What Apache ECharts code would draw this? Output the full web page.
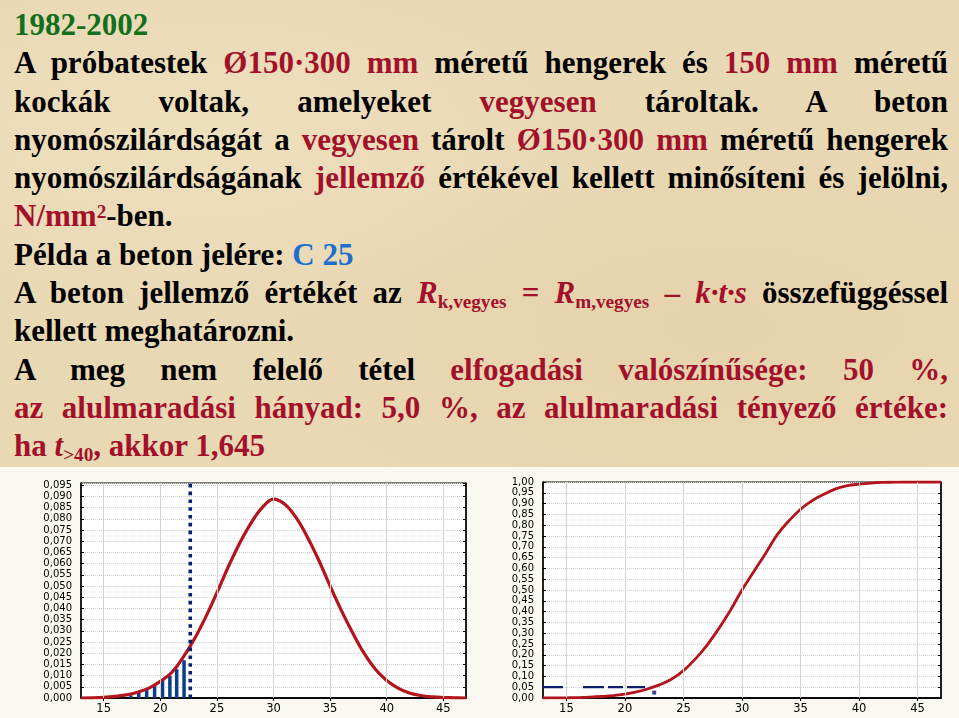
<!DOCTYPE html>
<html><head><meta charset="utf-8">
<script src="https://cdn.jsdelivr.net/npm/echarts@6/dist/echarts.min.js"></script>
<style>
html,body{margin:0;padding:0;width:959px;height:718px;overflow:hidden;background:#fbf8f1;}
#bg{position:absolute;left:0;top:0;width:959px;height:467px;
 background:radial-gradient(ellipse at 20% 30%,#eedfbd 0%,rgba(238,223,189,0) 40%),radial-gradient(ellipse at 75% 70%,#e6d3ad 0%,rgba(230,211,173,0) 45%),#e9d8b4;}
#txt{position:absolute;left:14px;top:6px;width:934px;font-family:"Liberation Serif","Times New Roman",serif;font-weight:bold;font-size:31px;line-height:38.3px;color:#000;}
.j{text-align:justify;text-align-last:justify;}
.l{text-align:left;}
.r{color:#a3102a;}
.g{color:#12701d;}
.b{color:#1e6fcc;}
sub{font-size:0.62em;vertical-align:-0.28em;line-height:0;}
sup{font-size:0.62em;vertical-align:0.42em;line-height:0;}
#chart{position:absolute;left:0;top:0;width:959px;height:718px;}
</style></head>
<body>
<div id="bg"></div>
<div id="txt">
 <div class="l g">1982-2002</div>
 <div class="j">A próbatestek <span class="r">Ø150·300 mm</span> méretű hengerek és <span class="r">150 mm</span> méretű</div>
 <div class="j">kockák voltak, amelyeket <span class="r">vegyesen</span> tároltak. A beton</div>
 <div class="j">nyomószilárdságát a <span class="r">vegyesen</span> tárolt <span class="r">Ø150·300 mm</span> méretű hengerek</div>
 <div class="j">nyomószilárdságának <span class="r">jellemző</span> értékével kellett minősíteni és jelölni,</div>
 <div class="l"><span class="r">N/mm<sup>2</sup></span>-ben.</div>
 <div class="l">Példa a beton jelére: <span class="b">C 25</span></div>
 <div class="j">A beton jellemző értékét az <span class="r"><i>R</i><sub>k,vegyes</sub> = <i>R</i><sub>m,vegyes</sub> – <i>k·t·s</i></span> összefüggéssel</div>
 <div class="l">kellett meghatározni.</div>
 <div class="j">A meg nem felelő tétel <span class="r">elfogadási valószínűsége: 50 %,</span></div>
 <div class="j r">az alulmaradási hányad: 5,0 %, az alulmaradási tényező értéke:</div>
 <div class="l r">ha <i>t</i><sub>&gt;40</sub>, akkor 1,645</div>
</div>
<div id="chart"></div>
<script>
// ---- data ----
const xValues = [13,14,15,16,17,18,19,20,21,22,23,24,25,26,27,28,29,30,31,32,33,34,35,36,37,38,39,40,41,42,43,44,45,46,47];
const density = [0.0000,0.0001,0.0003,0.0007,0.0014,0.0026,0.0044,0.0074,0.0113,0.0180,0.0262,0.0360,0.0470,0.0585,0.0690,0.0780,0.0850,0.0888,0.0865,0.0805,0.0718,0.0615,0.0500,0.0390,0.0290,0.0200,0.0128,0.0078,0.0044,0.0022,0.0011,0.0005,0.0002,0.0001,0.0000];
const cumulative = [0,0.0003,0.001,0.002,0.004,0.007,0.011,0.018,0.028,0.043,0.062,0.088,0.127,0.180,0.244,0.320,0.405,0.500,0.585,0.668,0.755,0.820,0.874,0.914,0.943,0.968,0.983,0.990,0.995,0.998,0.999,1,1,1,1];
const histX = [17.4,18.1,18.8,19.5,20.2,20.85,21.45,22.1];
const histY = [0.0012,0.0024,0.0042,0.0053,0.0080,0.0099,0.0129,0.0169];
const limitLeft = 22.65;
const limitRight = 22.5;
const quantileLevel = 0.05;
const rightDot = [22.5, 0.025];
const xTicks = [15,20,25,30,35,40,45];

const zipPairs = (a,b)=>a.map((v,i)=>[v,b[i]]);
const labelFont = {fontFamily:'DejaVu Sans, Arial, sans-serif', fontSize:10, lineHeight:9, color:'#000'};
const vGrid = {silent:true, symbol:'none', label:{show:false},
  lineStyle:{color:'#d4d4d4', width:1, type:'solid'},
  data: xTicks.map(v=>({xAxis:v}))};

function xAxisDef(gi, pos){
  return {type:'value', gridIndex:gi, position:pos, min:13, max:47,
    axisLine:{show:true, lineStyle:{color:'#000', width:1.5}},
    axisTick:{show:true, inside:true, length:3, customValues:xTicks, lineStyle:{color:'#000'}},
    axisLabel:Object.assign({show:pos==='bottom', margin:5, customValues:xTicks, hideOverlap:false}, labelFont, {fontSize:11.5, lineHeight:12}),
    splitLine:{show:false}};
}
function yAxisDef(gi, pos, max, interval, dec){
  return {type:'value', gridIndex:gi, position:pos, min:0, max:max, interval:interval,
    axisLine:{show:true, lineStyle:{color:'#000', width:1.5}},
    axisTick:{show:true, inside:true, length:3, lineStyle:{color:'#000'}},
    axisLabel:Object.assign({show:pos==='left', margin:9, showMinLabel:true, showMaxLabel:max===1,
      hideOverlap:false, formatter:v=>v.toFixed(dec).replace('.',',')}, labelFont),
    splitLine:{show:pos==='left', lineStyle:{color:'#cfcfcf', type:'dotted', width:1}}};
}

const chart = echarts.init(document.getElementById('chart'), null, {renderer:'canvas'});
chart.setOption({
  backgroundColor:'transparent',
  animation:false,
  grid:[
    {left:81, top:483, width:385, height:215, show:true, backgroundColor:'#ffffff', borderColor:'#000', borderWidth:1},
    {left:543, top:482, width:398, height:216, show:true, backgroundColor:'#ffffff', borderColor:'#000', borderWidth:1}
  ],
  xAxis:[xAxisDef(0,'bottom'), xAxisDef(0,'top'), xAxisDef(1,'bottom'), xAxisDef(1,'top')],
  yAxis:[yAxisDef(0,'left',0.096,0.005,3), yAxisDef(0,'right',0.096,0.005,3),
         yAxisDef(1,'left',1,0.05,2), yAxisDef(1,'right',1,0.05,2)],
  series:[
    {type:'line', xAxisIndex:0, yAxisIndex:0, data:[], markLine:vGrid, silent:true},
    {type:'bar', xAxisIndex:0, yAxisIndex:0, data:zipPairs(histX,histY), barWidth:3.5,
      itemStyle:{color:'#0b3d8c'}},
    {type:'line', xAxisIndex:0, yAxisIndex:0, data:zipPairs(xValues,density), smooth:0.4,
      showSymbol:false, lineStyle:{color:'#b3141d', width:3.2}, z:4},
    {type:'line', xAxisIndex:0, yAxisIndex:0, data:[[limitLeft,0],[limitLeft,0.096]],
      showSymbol:false, lineStyle:{color:'#0c1f6e', width:3.6, type:[3.6,4.2], cap:'butt'}, z:5},
    {type:'line', xAxisIndex:2, yAxisIndex:2, data:[], markLine:vGrid, silent:true},
    {type:'line', xAxisIndex:2, yAxisIndex:2, data:zipPairs(xValues,cumulative), smooth:0.4,
      showSymbol:false, lineStyle:{color:'#b3141d', width:2.8}, z:4},
    {type:'line', xAxisIndex:2, yAxisIndex:2, data:[[13,quantileLevel],[limitRight,quantileLevel]],
      showSymbol:false, lineStyle:{color:'#0c1f6e', width:2.2, type:[20,20,21,4,15,4,18], cap:'butt'}, z:5},
    {type:'scatter', xAxisIndex:2, yAxisIndex:2, data:[rightDot], symbol:'rect', symbolSize:4,
      itemStyle:{color:'#0c1f6e'}, z:5}
  ]
});
</script>
</body></html>
